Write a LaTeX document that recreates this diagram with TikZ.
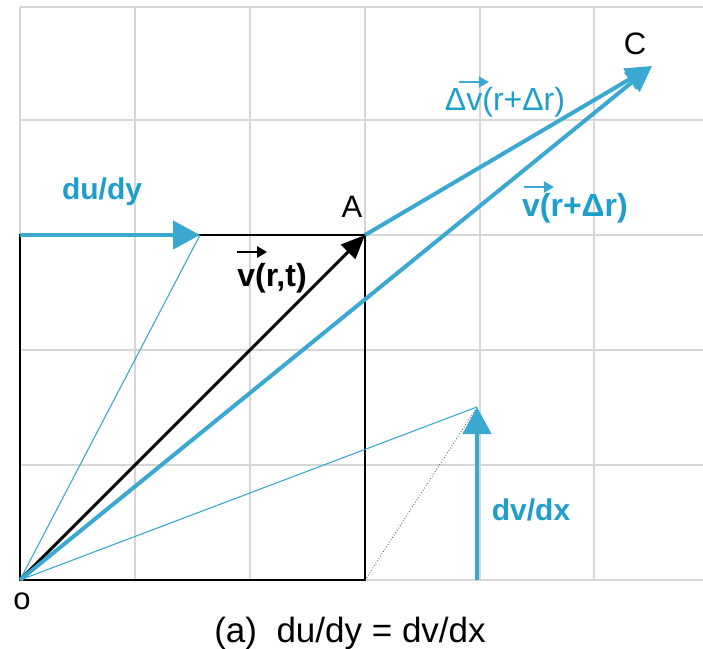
\documentclass[tikz,border=0pt]{standalone}
\usepackage{fontspec}
\setmainfont{Liberation Sans}
\usetikzlibrary{arrows.meta,calc}
\definecolor{vblue}{RGB}{58,168,208}
\definecolor{vtext}{RGB}{30,158,204}
\definecolor{gridc}{RGB}{214,214,214}
\begin{document}
\begin{tikzpicture}[x=1pt,y=-1pt,
  gridline/.style={draw=gridc,line width=1.2pt},
  edgeline/.style={draw=black,line width=2.6pt},
  thinblue/.style={draw=vblue,line width=1.1pt},
  dotline/.style={draw=black!70,line width=0.8pt,dotted},
  bigarrow/.style={draw=vblue,line width=4.6pt,-{Triangle[length=27pt,width=28pt]}},
  vecarrow/.style={draw=vblue,line width=4pt,-{Triangle[length=26pt,width=24pt]}},
  blackarrow/.style={draw=black,line width=3pt,-{Triangle[length=24pt,width=20pt]}},
  smallarrow/.style={line width=2.4pt,-{Triangle[length=10pt,width=11pt]}},
  lbl/.style={inner sep=0pt,font=\fontsize{31}{36}\selectfont},
  bluelbl/.style={inner sep=0pt,text=vtext,font=\fontsize{#1}{36}\selectfont\bfseries},
]
\useasboundingbox (0,0) rectangle (703,648);
\fill[white] (0,0) rectangle (703,648);
% grid
\foreach \x in {20,135,250,365,480,594} \draw[gridline] (\x,7) -- (\x,580);
\foreach \y in {7,120,235,350,465,580} \draw[gridline] (20,\y) -- (703,\y);
% points
\coordinate (O) at (20,580);
\coordinate (A) at (365,235);
\coordinate (B) at (365,580);
\coordinate (D) at (20,235);
\coordinate (C) at (652,66);
\coordinate (P) at (200,235);
\coordinate (Q0) at (477,580);
\coordinate (Q) at (477,407);
% square
\draw[edgeline] (O) -- (B) -- (A) -- (D) -- cycle;
% thin construction lines
\draw[thinblue] (O) -- (P);
\draw[thinblue] (O) -- (Q);
\draw[dotline] (B) -- (Q);
% vectors
\draw[blackarrow] (O) -- (A);
\draw[vecarrow] (O) -- (C);
\draw[vecarrow] (A) -- (C);
\draw[bigarrow] (D) -- (P);
\draw[bigarrow] (Q0) -- (Q);
% labels
\node[lbl] (lo) at (22,601) {o};
\node[lbl] (la) at (352,207) {A};
\node[lbl] (lc) at (635,44) {C};
\node[bluelbl=30] (ldu) at (102,192) {du/dy};
\node[bluelbl=30] (ldv) at (531,510) {dv/dx};
\node[inner sep=0pt,font=\fontsize{32}{36}\selectfont\bfseries] (lvrt) at (272,278) {v(r,t)};
\node[inner sep=0pt,text=vtext,font=\fontsize{32}{36}\selectfont] (ldvr) at (505,102) {Δv(r+Δr)};
\node[bluelbl=32] (lvr) at (575,208) {v(r+Δr)};
\draw[smallarrow,black] ($(lvrt.west)+(0,-26)$) -- ($(lvrt.west)+(30,-26)$);
\draw[smallarrow,vblue] ($(ldvr.west)+(14,-20)$) -- ($(ldvr.west)+(44,-20)$);
\draw[smallarrow,vblue] ($(lvr.west)+(2,-21)$) -- ($(lvr.west)+(32,-21)$);
\node[inner sep=0pt,font=\fontsize{35}{40}\selectfont] (cap) at (350,633) {(a)~~du/dy = dv/dx};
\end{tikzpicture}
\end{document}
